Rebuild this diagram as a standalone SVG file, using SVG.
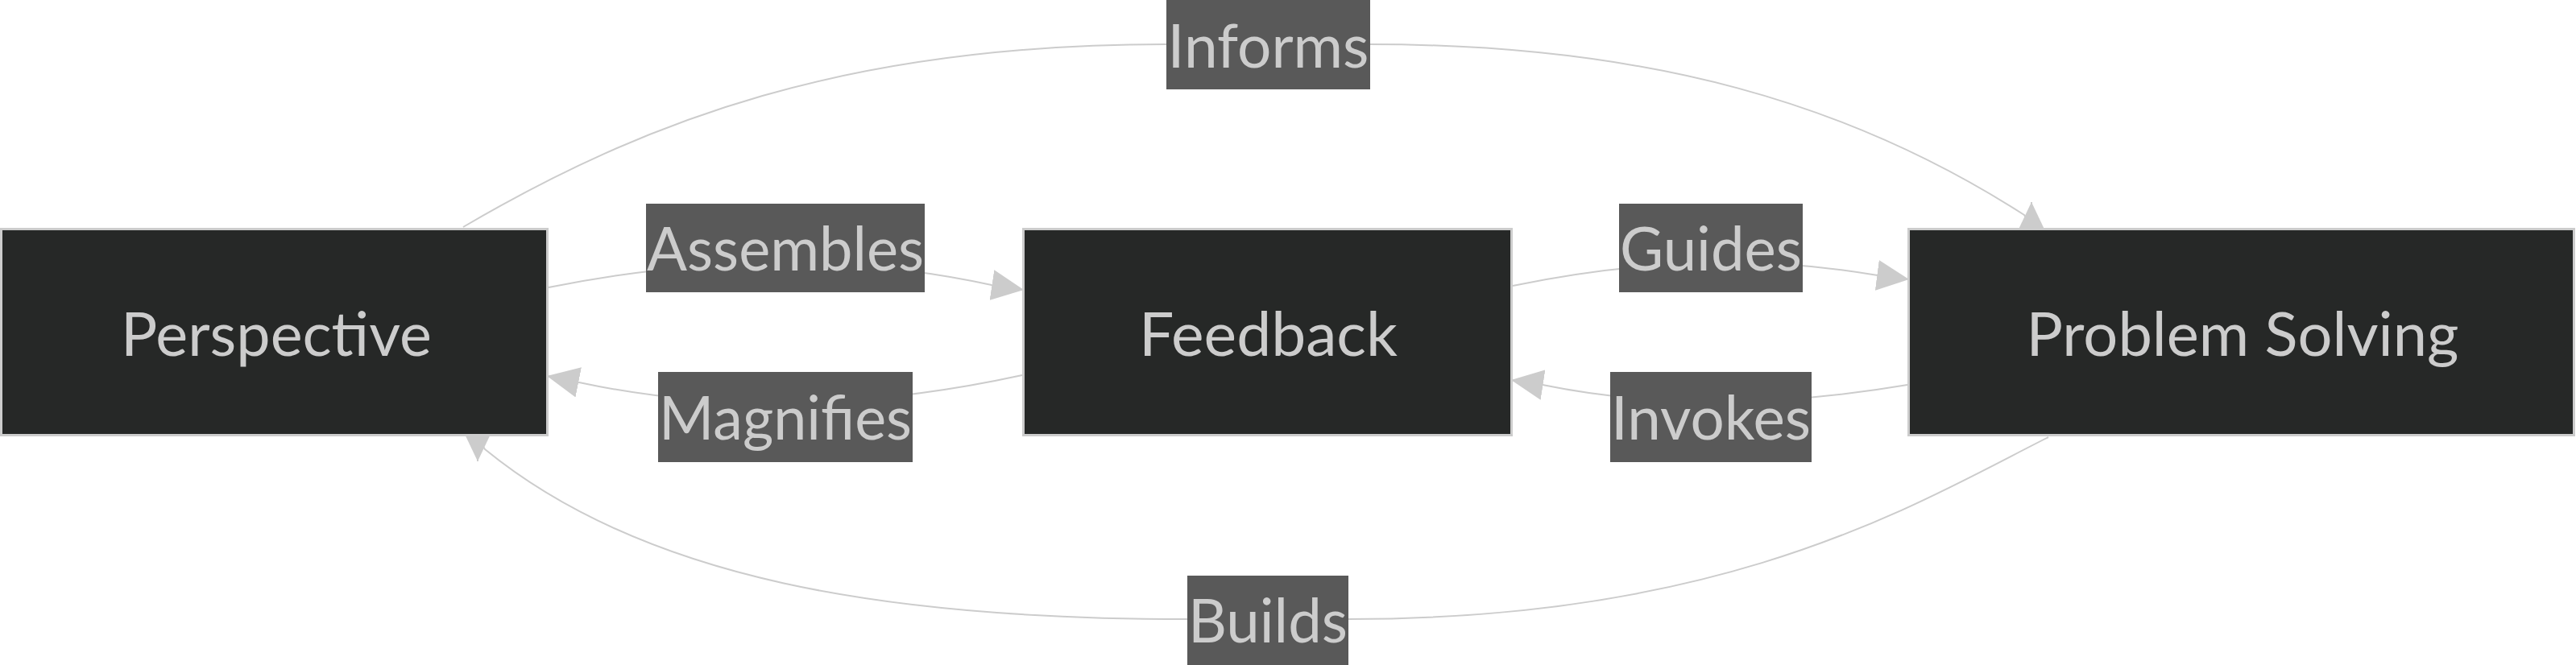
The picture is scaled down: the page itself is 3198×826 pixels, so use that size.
<svg xmlns="http://www.w3.org/2000/svg" width="3198" height="826" viewBox="0 0 3198 826">
  <style>
    .edge { fill: none; stroke: #cccccc; stroke-width: 2; marker-end: url(#arrow); }
    .node rect { fill: #262827; stroke: #cccccc; stroke-width: 3; }
    .node text { fill: #cccccc; font-family: Lato, "Open Sans", "Liberation Sans", sans-serif; font-size: 76px; text-anchor: middle; }
    .elabel rect { fill: #595959; stroke: none; }
    .elabel text { fill: #cccccc; font-family: Lato, "Open Sans", "Liberation Sans", sans-serif; font-size: 76px; text-anchor: middle; }
  </style>
  <defs>
    <marker id="arrow" viewBox="0 0 10 10" refX="10" refY="5" markerUnits="userSpaceOnUse" markerWidth="40" markerHeight="38" preserveAspectRatio="none" orient="auto">
      <path d="M0,0 L10,5 L0,10 z" fill="#cccccc"/>
    </marker>
  </defs>
  <rect x="0" y="0" width="3198" height="826" fill="#ffffff"/>

  <g id="connectors">
    <path id="e-informs" class="edge" d="M575,282 C800,150 1050,55 1447,55 L1700,55 C2050,55 2300,130 2513,267 L2522,283 L2522,251"/>
    <path id="e-assembles" class="edge" d="M681,357 Q975,298 1231,354 L1271,360"/>
    <path id="e-magnifies" class="edge" d="M1269,466 Q975,530 719,475 L679,467"/>
    <path id="e-guides" class="edge" d="M1878,355 Q2120,305 2331,342 L2370,347"/>
    <path id="e-invokes" class="edge" d="M2368,478 Q2120,520 1915,478 L1876,472"/>
    <path id="e-builds" class="edge" d="M2543,543 C2380,625 2150,769 1674,769 L1474,769 C1100,769 800,720 602,558 L593,543 L593,573"/>
  </g>

  <g id="edge-labels">
    <g id="lbl-informs" class="elabel"><rect x="1448" y="0" width="253" height="111"/><text x="1574.5" y="83.5" textLength="250" lengthAdjust="spacingAndGlyphs">Informs</text></g>
    <g id="lbl-assembles" class="elabel"><rect x="802" y="253" width="346" height="110"/><text x="975" y="336" textLength="344" lengthAdjust="spacingAndGlyphs">Assembles</text></g>
    <g id="lbl-guides" class="elabel"><rect x="2010" y="253" width="228" height="110"/><text x="2124" y="336" textLength="226" lengthAdjust="spacingAndGlyphs">Guides</text></g>
    <g id="lbl-magnifies" class="elabel"><rect x="817" y="462" width="316" height="112"/><text x="975" y="546" textLength="314" lengthAdjust="spacingAndGlyphs">Magnifies</text></g>
    <g id="lbl-invokes" class="elabel"><rect x="1999" y="462" width="250" height="112"/><text x="2124" y="546" textLength="248" lengthAdjust="spacingAndGlyphs">Invokes</text></g>
    <g id="lbl-builds" class="elabel"><rect x="1474" y="715" width="200" height="111"/><text x="1574" y="798" textLength="198" lengthAdjust="spacingAndGlyphs">Builds</text></g>
  </g>

  <g id="node-perspective" class="node">
    <rect x="1.5" y="284.5" width="678" height="256"/>
    <text x="343" y="442" textLength="386" lengthAdjust="spacingAndGlyphs">Perspective</text>
  </g>
  <g id="node-feedback" class="node">
    <rect x="1270.5" y="284.5" width="606" height="256"/>
    <text x="1574.5" y="442" textLength="321" lengthAdjust="spacingAndGlyphs">Feedback</text>
  </g>
  <g id="node-problem-solving" class="node">
    <rect x="2369.5" y="284.5" width="826" height="256"/>
    <text x="2784" y="442" textLength="537" lengthAdjust="spacingAndGlyphs">Problem Solving</text>
  </g>
</svg>
